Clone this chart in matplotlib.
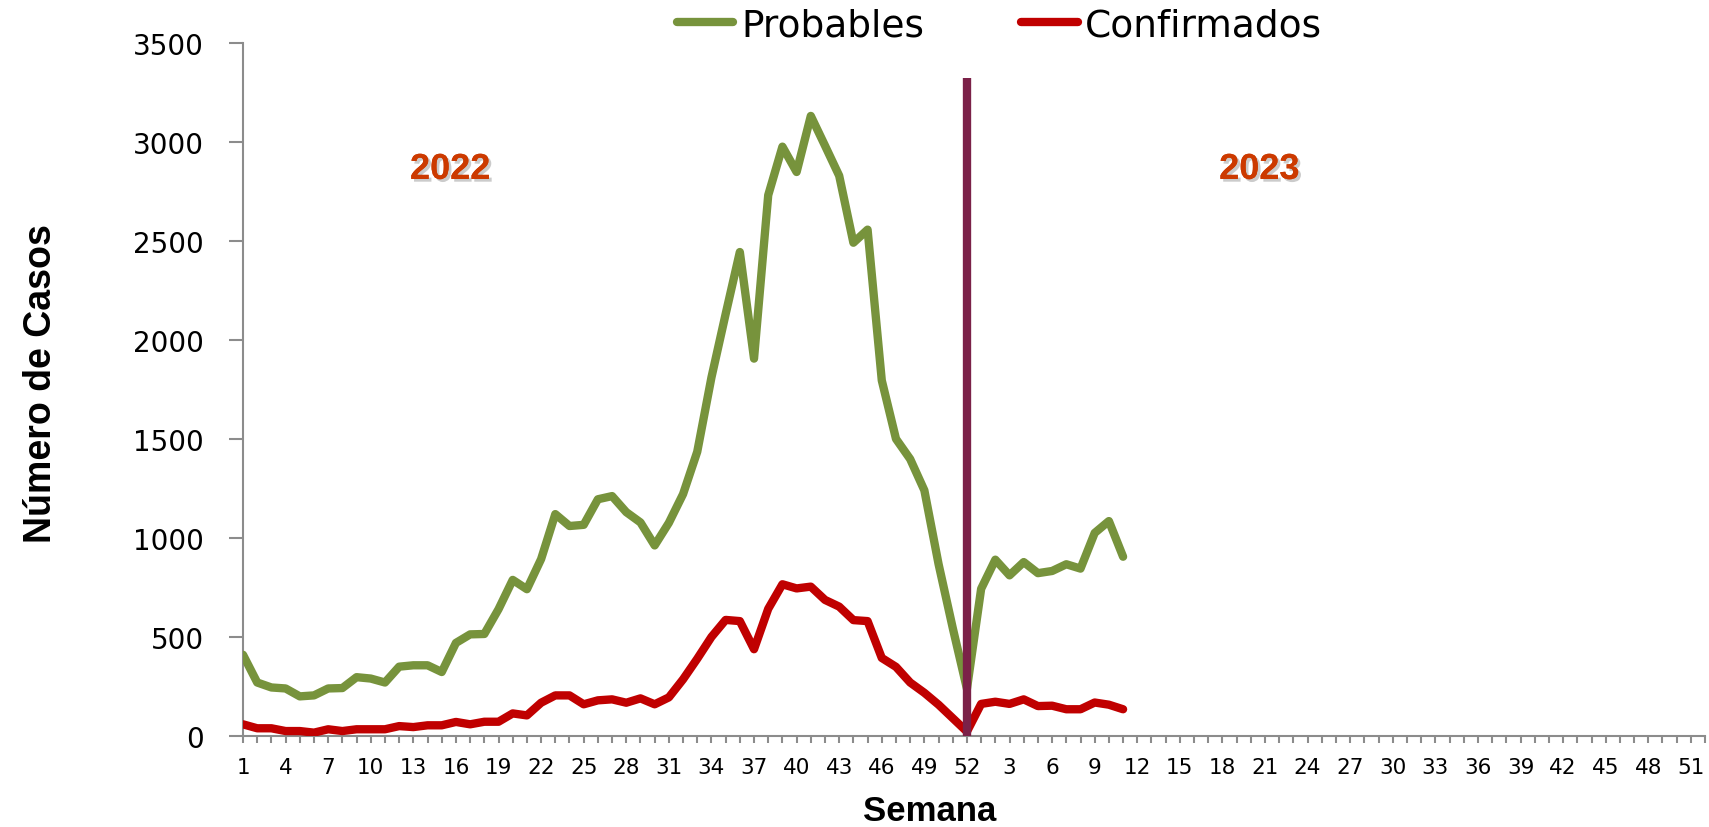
import numpy as np
import matplotlib
matplotlib.use("Agg")
import matplotlib.pyplot as plt
import matplotlib.patheffects as pe

# weekly cases, 2022 (weeks 1-52) and 2023 (weeks 1-11)
prob_2022 = [410, 270, 245, 240, 200, 205, 240, 242, 297, 290,
             270, 350, 357, 357, 323, 470, 513, 515, 640, 788,
             741, 893, 1120, 1060, 1066, 1195, 1211, 1130, 1078, 962,
             1076, 1221, 1435, 1810, 2130, 2443, 1905, 2730, 2975, 2847,
             3130, 2980, 2828, 2490, 2556, 1795, 1500, 1398, 1240, 868,
             545, 238]
prob_2023 = [743, 890, 811, 878, 822, 833, 867, 845, 1025, 1085, 905]

conf_2022 = [59, 39, 39, 25, 25, 17, 34, 25, 34, 34,
             34, 50, 45, 54, 54, 71, 59, 72, 72, 114,
             104, 168, 205, 205, 160, 180, 185, 168, 190, 160,
             195, 286, 390, 500, 586, 580, 438, 642, 766, 745,
             754, 687, 653, 585, 580, 394, 349, 270, 218, 158,
             90, 22]
conf_2023 = [162, 173, 162, 185, 151, 153, 135, 135, 169, 158, 135]

week_labels = list(range(1, 53)) + list(range(1, 53))
year_labels = ["2022", "2023"]
split_week = 51          # index of week 52 of 2022
split_top = 3320

green = "#77933C"
red = "#C00000"
purple = "#7B2148"
gray = "#8C8C8C"

probables = prob_2022 + prob_2023
confirmados = conf_2022 + conf_2023

fig = plt.figure(figsize=(17.09, 8.28), dpi=100)
ax = fig.add_axes([0.1422, 0.1099, 0.8555, 0.8374])

ax.plot(np.arange(len(probables)), probables, color=green, lw=6,
        solid_joinstyle="round", solid_capstyle="round", label="Probables", zorder=3)
ax.plot(np.arange(len(confirmados)), confirmados, color=red, lw=6,
        solid_joinstyle="round", solid_capstyle="round", label="Confirmados", zorder=4)
ax.vlines(split_week, 0, split_top, color=purple, lw=6, zorder=5)

shadow = [pe.withSimplePatchShadow(offset=(2, -2), shadow_rgbFace="#999999", alpha=0.5), pe.Normal()]
ax.text(14.6, 2860, year_labels[0], color="#CC3A00", fontsize=26, fontweight="bold",
        family=["Liberation Sans", "DejaVu Sans"], ha="center", va="center",
        path_effects=shadow)
ax.text(71.6, 2860, year_labels[1], color="#CC3A00", fontsize=26, fontweight="bold",
        family=["Liberation Sans", "DejaVu Sans"], ha="center", va="center",
        path_effects=shadow)

ax.set_xlim(0, len(week_labels) - 1)
ax.set_ylim(0, 3500)
ax.set_yticks(np.arange(0, 3501, 500))
ax.set_xticks(np.arange(len(week_labels)))
ax.set_xticklabels([str(w) if i % 3 == 0 else "" for i, w in enumerate(week_labels)])

for s in ["top", "right"]:
    ax.spines[s].set_visible(False)
for s in ["left", "bottom"]:
    ax.spines[s].set_color(gray)
    ax.spines[s].set_linewidth(1.5)

ax.tick_params(axis="y", direction="out", length=10, width=1.5, color=gray,
               labelsize=20, pad=18)
ax.tick_params(axis="x", direction="out", length=5, width=1.5, color=gray,
               labelsize=15.5, pad=10)

fig.text(0.024, 0.537, "Número de Casos", rotation=90, ha="center", va="center",
         fontsize=27, fontweight="bold",
         family=["Liberation Sans Narrow", "Liberation Sans", "DejaVu Sans"])
fig.text(0.544, 0.0205, "Semana", ha="center", va="center", fontsize=25,
         fontweight="bold", family=["Liberation Sans", "DejaVu Sans"])

ax.legend(loc="center", bbox_to_anchor=(0.585, 0.968), bbox_transform=fig.transFigure,
          ncol=2, frameon=False, fontsize=27, handlelength=1.5, handletextpad=0.2,
          columnspacing=2.6)

fig.savefig("out.png", dpi=100)
